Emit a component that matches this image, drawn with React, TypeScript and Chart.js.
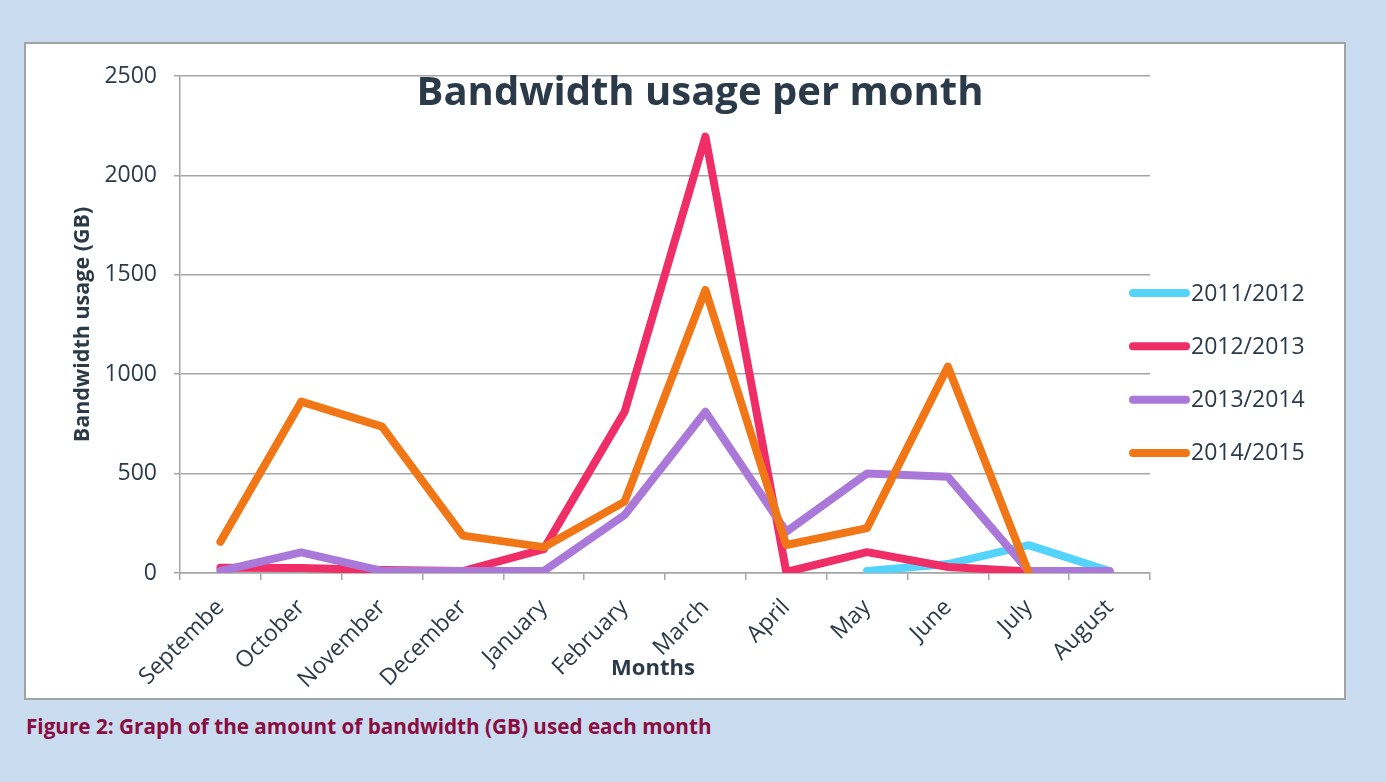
import React, { useEffect, useRef } from "react";
import { Chart, registerables } from "chart.js";

Chart.register(...registerables);

// Category axis (the first label is clipped in the source document)
const months = [
  "Septembe", "October", "November", "December", "January", "February",
  "March", "April", "May", "June", "July", "August",
];

const seriesLabels = ["2011/2012", "2012/2013", "2013/2014", "2014/2015"];

// Bandwidth used per month (GB)
const usage2011 = [null, null, null, null, null, null, null, null, 10, 45, 140, 10];
const usage2012 = [27, 25, 15, 10, 120, 811, 2195, 5, 105, 30, 8, 0];
const usage2013 = [10, 104, 10, 10, 10, 292, 811, 208, 501, 484, 10, 10];
const usage2014 = [157, 862, 736, 188, 130, 359, 1424, 141, 226, 1038, 0, null];

const yTicks = [0, 500, 1000, 1500, 2000, 2500];

const seriesColors = ["#55d4fb", "#ef2d67", "#aa78d9", "#f07616"];

const TEXT = "#2b3a48";
const GRID = "#a6a6a6";
const FONT = "'Open Sans', Lato, sans-serif";

const TITLE = "Bandwidth usage per month";
const Y_TITLE = "Bandwidth usage (GB)";
const X_TITLE = "Months";
const CAPTION = "Figure 2: Graph of the amount of bandwidth (GB) used each month";

// Chart title, x-axis title and the legend are painted on top of the plot
const overlayPlugin = {
  id: "overlayText",
  afterDraw(chart: any) {
    const { ctx, chartArea, width, height } = chart;
    ctx.save();
    ctx.fillStyle = TEXT;

    ctx.font = `bold 40px ${FONT}`;
    ctx.textAlign = "center";
    ctx.textBaseline = "alphabetic";
    ctx.fillText(TITLE, width / 2 + 15, chartArea.top + 29);

    ctx.font = `bold 22px ${FONT}`;
    ctx.textBaseline = "middle";
    ctx.fillText(X_TITLE, (chartArea.left + chartArea.right) / 2 - 12, chartArea.bottom + 96);

    const sets = chart.data.datasets;
    const step = 53.3;
    ctx.font = `23px ${FONT}`;
    ctx.textAlign = "left";
    sets.forEach((ds: any, i: number) => {
      const y = height / 2 + 2 + (i - (sets.length - 1) / 2) * step;
      ctx.beginPath();
      ctx.strokeStyle = ds.borderColor;
      ctx.lineWidth = 8;
      ctx.lineCap = "round";
      ctx.moveTo(chartArea.right - 17, y);
      ctx.lineTo(chartArea.right + 36, y);
      ctx.stroke();
      ctx.fillStyle = TEXT;
      ctx.fillText(ds.label, chartArea.right + 41, y + 1);
    });
    ctx.restore();
  },
};

function BandwidthChart() {
  const canvasRef = useRef<HTMLCanvasElement | null>(null);

  useEffect(() => {
    const canvas = canvasRef.current;
    if (!canvas) return;
    const series = [usage2011, usage2012, usage2013, usage2014];
    const chart = new Chart(canvas, {
      type: "line",
      data: {
        labels: months,
        datasets: series.map((values, i) => ({
          label: seriesLabels[i],
          data: values,
          borderColor: seriesColors[i],
          backgroundColor: seriesColors[i],
          borderWidth: 8,
          borderCapStyle: "round",
          borderJoinStyle: "round",
          pointRadius: 0,
          pointHoverRadius: 0,
          tension: 0,
          fill: false,
          spanGaps: false,
          // later seasons are painted over earlier ones
          order: series.length - i,
        })),
      },
      options: {
        responsive: false,
        animation: false,
        devicePixelRatio: 1,
        layout: { padding: { left: 0, top: 32, right: 194, bottom: 0 } },
        plugins: {
          legend: { display: false },
          title: { display: false },
          tooltip: { enabled: false },
        },
        scales: {
          x: {
            type: "category",
            offset: true,
            grid: {
              display: true,
              drawOnChartArea: false,
              drawTicks: true,
              tickLength: 7,
              color: GRID,
              lineWidth: 1.5,
              offset: true,
            },
            border: { display: true, color: GRID, width: 1.5 },
            ticks: {
              autoSkip: false,
              maxRotation: 45,
              minRotation: 45,
              padding: 14,
              color: TEXT,
              font: { family: FONT, size: 23 },
            },
            afterFit(scale: any) {
              scale.height = 125;
            },
          },
          y: {
            min: 0,
            max: 2500,
            afterBuildTicks(scale: any) {
              scale.ticks = yTicks.map((v) => ({ value: v }));
            },
            grid: {
              color: GRID,
              lineWidth: 1.5,
              drawTicks: true,
              tickLength: 6,
            },
            border: { display: true, color: GRID, width: 1.5 },
            ticks: {
              padding: 17,
              color: TEXT,
              font: { family: FONT, size: 23 },
              callback: (value: any) => String(value),
            },
            title: {
              display: true,
              text: Y_TITLE,
              color: TEXT,
              font: { family: FONT, size: 21.5, weight: "bold" },
              padding: { top: 44, bottom: 0 },
            },
            afterFit(scale: any) {
              scale.width = 154;
            },
          },
        },
      },
      plugins: [overlayPlugin],
    });
    return () => chart.destroy();
  }, []);

  return <canvas ref={canvasRef} width={1318} height={654} style={{ display: "block" }} />;
}

export default function App() {
  return (
    <div
      style={{
        position: "fixed",
        inset: 0,
        background: "#c9dcf0",
        overflow: "hidden",
      }}
    >
      <div
        style={{
          position: "absolute",
          left: 24,
          top: 42,
          width: 1322,
          height: 658,
          boxSizing: "border-box",
          border: "2px solid #a3a3a3",
          background: "#ffffff",
        }}
      >
        <BandwidthChart />
      </div>
      <div
        style={{
          position: "absolute",
          left: 26,
          top: 712,
          fontFamily: FONT,
          fontWeight: 700,
          fontSize: 20.7,
          color: "#8a0c40",
          whiteSpace: "nowrap",
        }}
      >
        {CAPTION}
      </div>
    </div>
  );
}
